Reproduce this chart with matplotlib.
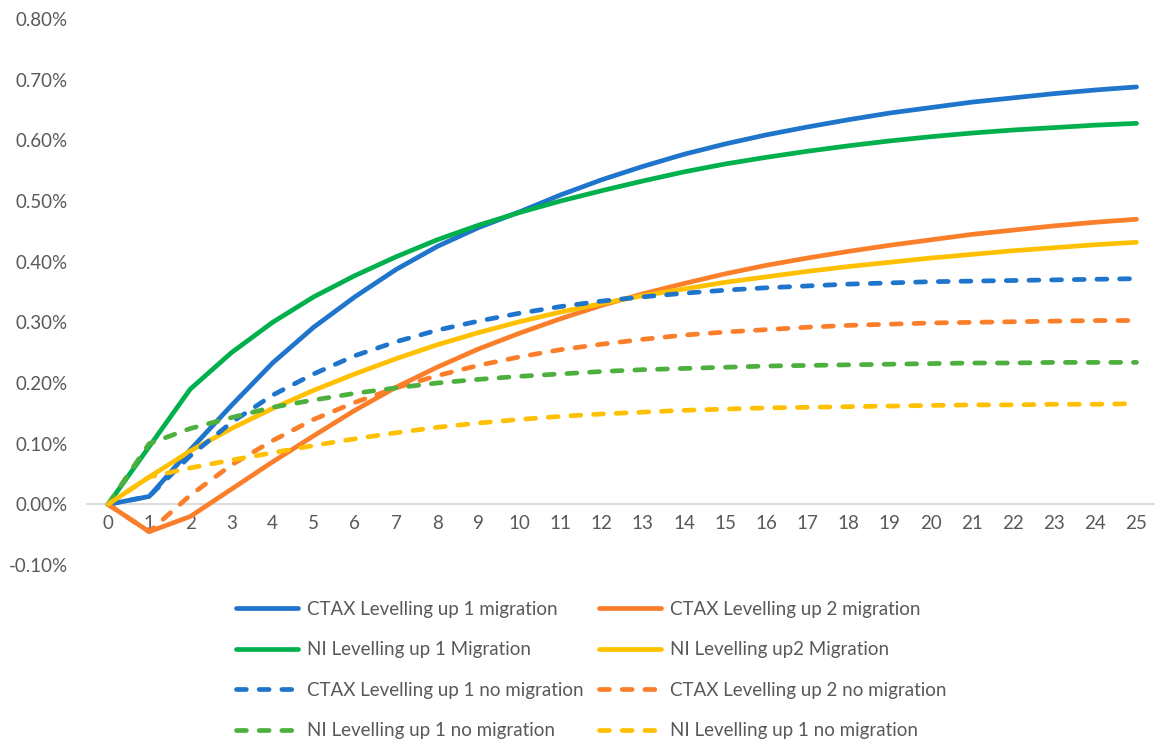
import matplotlib
matplotlib.use('Agg')
import matplotlib.pyplot as plt
from matplotlib.ticker import FuncFormatter

plt.rcParams['font.family'] = ['Lato', 'DejaVu Sans']

years = list(range(26))

# series values, in percent
ctax1_mig = [0, 0.013, 0.090, 0.163, 0.233, 0.292, 0.342, 0.387, 0.425, 0.456, 0.482,
             0.510, 0.535, 0.557, 0.577, 0.594, 0.609, 0.622, 0.634, 0.645, 0.654,
             0.663, 0.670, 0.677, 0.683, 0.688]
ctax2_mig = [0, -0.045, -0.020, 0.025, 0.070, 0.113, 0.155, 0.193, 0.226, 0.256, 0.282,
             0.306, 0.328, 0.347, 0.364, 0.380, 0.394, 0.406, 0.417, 0.427, 0.436,
             0.445, 0.452, 0.459, 0.465, 0.470]
ni1_mig = [0, 0.095, 0.190, 0.250, 0.300, 0.342, 0.377, 0.408, 0.436, 0.460, 0.481,
           0.500, 0.517, 0.533, 0.548, 0.561, 0.572, 0.582, 0.591, 0.599, 0.606,
           0.612, 0.617, 0.621, 0.625, 0.628]
ni2_mig = [0, 0.045, 0.088, 0.125, 0.158, 0.188, 0.215, 0.240, 0.263, 0.283, 0.301,
           0.317, 0.331, 0.344, 0.355, 0.366, 0.375, 0.384, 0.392, 0.399, 0.406,
           0.412, 0.418, 0.423, 0.428, 0.432]
ctax1_nomig = [0, 0.013, 0.080, 0.135, 0.180, 0.215, 0.245, 0.268, 0.287, 0.302, 0.315,
               0.326, 0.335, 0.342, 0.348, 0.353, 0.357, 0.360, 0.363, 0.365, 0.367,
               0.368, 0.369, 0.370, 0.371, 0.372]
ctax2_nomig = [0, -0.045, 0.015, 0.065, 0.105, 0.140, 0.168, 0.192, 0.212, 0.229, 0.243,
               0.255, 0.264, 0.272, 0.279, 0.284, 0.288, 0.292, 0.295, 0.297, 0.299,
               0.300, 0.301, 0.302, 0.303, 0.303]
ni1_nomig = [0, 0.100, 0.125, 0.143, 0.160, 0.172, 0.183, 0.192, 0.200, 0.206, 0.211,
             0.215, 0.219, 0.222, 0.224, 0.226, 0.228, 0.229, 0.230, 0.231, 0.232,
             0.233, 0.233, 0.234, 0.234, 0.234]
ni2_nomig = [0, 0.045, 0.060, 0.073, 0.085, 0.097, 0.108, 0.118, 0.127, 0.134, 0.140,
             0.145, 0.149, 0.152, 0.155, 0.157, 0.159, 0.160, 0.161, 0.162, 0.163,
             0.164, 0.164, 0.165, 0.165, 0.166]

series = [
    ('CTAX Levelling up 1 migration', ctax1_mig, '#1F74CB', '-'),
    ('CTAX Levelling up 2 migration', ctax2_mig, '#FB7F2B', '-'),
    ('NI Levelling up 1 Migration', ni1_mig, '#00B04C', '-'),
    ('NI Levelling up2 Migration', ni2_mig, '#FFC000', '-'),
    ('CTAX Levelling up 1 no migration', ctax1_nomig, '#1F74CB', '--'),
    ('CTAX Levelling up 2 no migration', ctax2_nomig, '#FB7F2B', '--'),
    ('NI Levelling up 1 no migration', ni1_nomig, '#4DB03E', '--'),
    ('NI Levelling up 1 no migration', ni2_nomig, '#FFC000', '--'),
]

fig = plt.figure(figsize=(11.55, 7.42), dpi=100)
ax = fig.add_axes([0.0757, 0.2385, 0.9243, 0.7359])

handles = []
for label, vals, col, ls in series:
    if ls == '--':
        ln, = ax.plot(years, vals, color=col, lw=3.4, linestyle=(0, (2.1, 2.7)),
                      dash_capstyle='round', label=label)
    else:
        ln, = ax.plot(years, vals, color=col, lw=3.4, solid_capstyle='round',
                      label=label)
    handles.append(ln)

ax.set_xlim(-0.5, 25.45)
ax.set_ylim(-0.1, 0.8)
ax.set_yticks([i / 10 for i in range(-1, 9)])
ax.yaxis.set_major_formatter(FuncFormatter(lambda v, p: f'{v:.2f}%'))
ax.set_xticks(years)

for s in ['top', 'right', 'left']:
    ax.spines[s].set_visible(False)
ax.spines['bottom'].set_position(('data', 0))
ax.spines['bottom'].set_color('#D9D9D9')
ax.spines['bottom'].set_linewidth(1.3)
ax.spines['bottom'].set_zorder(0)
ax.tick_params(axis='both', length=0, labelsize=13.5, colors='#595959')
ax.tick_params(axis='y', pad=14)
ax.tick_params(axis='x', pad=8)

# legend is filled row by row in the original, matplotlib fills by column
order = [0, 2, 4, 6, 1, 3, 5, 7]
leg = fig.legend([handles[i] for i in order], [series[i][0] for i in order],
                 loc='center', bbox_to_anchor=(0.512, 0.097), ncol=2,
                 frameon=False, fontsize=13.5, handlelength=3.3, handletextpad=0.5,
                 columnspacing=0.8, labelspacing=1.25)
for t in leg.get_texts():
    t.set_color('#595959')

fig.savefig('out.png', dpi=100)
